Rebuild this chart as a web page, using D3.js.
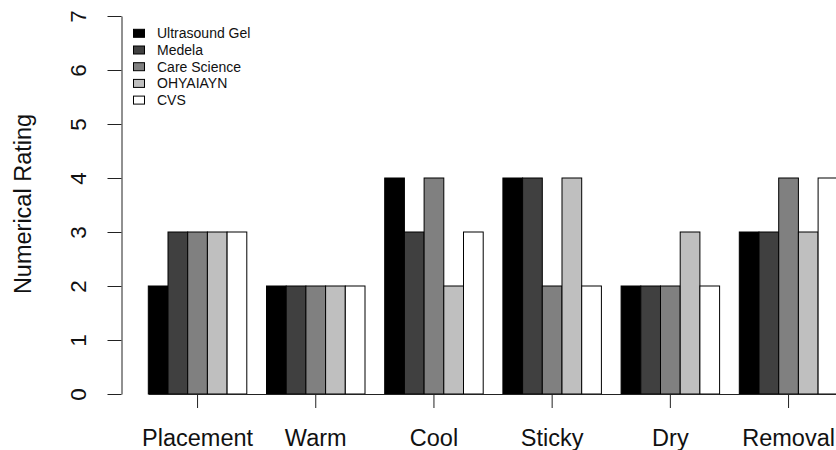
<!DOCTYPE html>
<html>
<head>
<meta charset="utf-8">
<script src="https://cdn.jsdelivr.net/npm/d3@7"></script>
<style>
  html, body { margin: 0; padding: 0; background: #fff; }
  svg { display: block; font-family: "Liberation Sans", Arial, sans-serif; }
</style>
</head>
<body>
<svg id="chart" width="836" height="450"></svg>
<script>
// Ratings per attribute, one value per product
const categories = ["Placement", "Warm", "Cool", "Sticky", "Dry", "Removal"];
const products = ["Ultrasound Gel", "Medela", "Care Science", "OHYAIAYN", "CVS"];
const ultrasoundGel = [2, 2, 4, 4, 2, 3];
const medela        = [3, 2, 3, 4, 2, 3];
const careScience   = [3, 2, 4, 2, 2, 4];
const ohyaiayn      = [3, 2, 2, 4, 3, 3];
const cvs           = [3, 2, 3, 2, 2, 4];
const yTicks = [0, 1, 2, 3, 4, 5, 6, 7];
const fills = ["#000000", "#404040", "#808080", "#bfbfbf", "#ffffff"];

const seriesValues = [ultrasoundGel, medela, careScience, ohyaiayn, cvs];

const svg = d3.select("#chart");

const x = d3.scaleBand()
  .domain(categories)
  .range([148.3, 837.8])
  .paddingInner(1 / 6)
  .paddingOuter(0);

const xInner = d3.scaleBand()
  .domain(products)
  .range([0, x.bandwidth()])
  .padding(0);

const y = d3.scaleLinear().domain([0, 7]).range([394, 16]);

// bars
const groups = svg.append("g")
  .selectAll("g")
  .data(categories)
  .join("g")
  .attr("transform", d => `translate(${x(d)},0)`);

groups.selectAll("rect")
  .data((c, ci) => products.map((p, pi) => ({ product: p, value: seriesValues[pi][ci], i: pi })))
  .join("rect")
  .attr("x", d => xInner(d.product))
  .attr("y", d => y(d.value))
  .attr("width", xInner.bandwidth())
  .attr("height", d => y(0) - y(d.value))
  .attr("fill", d => fills[d.i])
  .attr("stroke", "#000")
  .attr("stroke-width", 1);

// y axis
const yAxis = svg.append("g")
  .attr("transform", "translate(121.5,0)")
  .call(d3.axisLeft(y).tickValues(yTicks).tickSize(14).tickSizeOuter(0).tickFormat(d3.format("d")));
yAxis.select(".domain").attr("stroke", "#222");
yAxis.selectAll(".tick line").attr("stroke", "#222");
yAxis.selectAll(".tick text")
  .attr("x", null).attr("dy", null)
  .attr("transform", "translate(-43.5,0) rotate(-90)")
  .attr("text-anchor", "middle")
  .attr("dominant-baseline", "central")
  .attr("font-size", 22.5)
  .attr("fill", "#111");

// x axis
const xAxis = svg.append("g")
  .attr("transform", "translate(0,394)")
  .call(d3.axisBottom(x).tickSize(14).tickSizeOuter(0));
xAxis.select(".domain").attr("stroke", "#222");
xAxis.selectAll(".tick line").attr("stroke", "#222");
xAxis.selectAll(".tick text")
  .attr("y", 51.5).attr("dy", null)
  .attr("font-size", 23.5)
  .attr("fill", "#111");

// y axis title
svg.append("text")
  .attr("transform", "translate(31,204) rotate(-90)")
  .attr("text-anchor", "middle")
  .attr("font-size", 23.5)
  .attr("fill", "#111")
  .text("Numerical Rating");

// legend
const legend = svg.append("g")
  .selectAll("g")
  .data(products)
  .join("g")
  .attr("transform", (d, i) => `translate(133,${33.3 + i * 16.7})`);
legend.append("rect")
  .attr("x", 0.5).attr("y", -4)
  .attr("width", 11).attr("height", 8)
  .attr("fill", (d, i) => fills[i])
  .attr("stroke", "#000");
legend.append("text")
  .attr("x", 24).attr("y", 0)
  .attr("dominant-baseline", "central")
  .attr("font-size", 14)
  .attr("fill", "#111")
  .text(d => d);
</script>
</body>
</html>
